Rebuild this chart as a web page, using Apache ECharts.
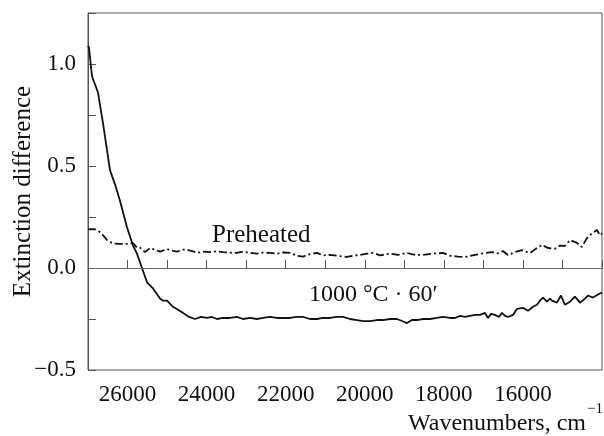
<!DOCTYPE html>
<html>
<head>
<meta charset="utf-8">
<script src="https://cdn.jsdelivr.net/npm/echarts@6/dist/echarts.min.js"></script>
<style>
  html, body { margin: 0; padding: 0; background: #fff; }
  #chart { width: 604px; height: 436px; }
</style>
</head>
<body>
<div id="chart"></div>
<script>
// 1000 °C · 60′ curve (solid)
const heatedWave = [
  27000, 26975, 26899, 26747, 26621, 26444, 26317, 26191, 26014, 25862,
  25761, 25634, 25508, 25356, 25306, 25179, 25103, 25002, 24850, 24724,
  24597, 24446, 24294, 24142, 23990, 23864, 23738, 23586, 23409, 23232,
  23080, 22903, 22726, 22574, 22397, 22220, 22068, 21891, 21714, 21563,
  21386, 21209, 21057, 20880, 20703, 20551, 20374, 20197, 20045, 19868,
  19691, 19539, 19362, 19185, 19059, 18933, 18807, 18680, 18528, 18351,
  18174, 18022, 17845, 17718, 17592, 17465, 17339, 17213, 17086, 16960,
  16884, 16808, 16707, 16606, 16530, 16454, 16378, 16251, 16150, 15999,
  15872, 15746, 15645, 15569, 15493, 15392, 15316, 15265, 15139, 15038,
  14937, 14810, 14684, 14557, 14431, 14355, 14228, 14102, 14000
]
const heatedValue = [
  1.09, 1.08, 0.94, 0.86, 0.71, 0.48, 0.41, 0.33, 0.20, 0.11,
  0.07, 0.0, -0.07, -0.10, -0.105, -0.15, -0.16, -0.16, -0.19, -0.205,
  -0.22, -0.24, -0.25, -0.24, -0.245, -0.24, -0.25, -0.245, -0.245, -0.24,
  -0.25, -0.245, -0.25, -0.245, -0.24, -0.245, -0.245, -0.245, -0.24, -0.24,
  -0.25, -0.25, -0.245, -0.245, -0.24, -0.24, -0.25, -0.255, -0.26, -0.26,
  -0.255, -0.255, -0.25, -0.25, -0.26, -0.27, -0.255, -0.255, -0.25, -0.25,
  -0.245, -0.24, -0.245, -0.245, -0.235, -0.24, -0.235, -0.23, -0.23, -0.22,
  -0.245, -0.225, -0.23, -0.24, -0.22, -0.235, -0.24, -0.23, -0.20, -0.195,
  -0.21, -0.19, -0.18, -0.16, -0.145, -0.165, -0.15, -0.16, -0.17, -0.135,
  -0.18, -0.165, -0.14, -0.17, -0.15, -0.135, -0.145, -0.13, -0.12
]

// Preheated curve (dash-dot)
const preWave = [
  27000, 26823, 26697, 26595, 26520, 26368, 26191, 26014, 25862, 25761,
  25685, 25559, 25432, 25306, 25179, 25002, 24876, 24749, 24597, 24471,
  24344, 24243, 24092, 23915, 23738, 23586, 23409, 23232, 23080, 22903,
  22726, 22574, 22397, 22220, 22068, 21891, 21714, 21563, 21386, 21209,
  21057, 20880, 20703, 20450, 20298, 20121, 19944, 19792, 19615, 19362,
  19160, 18933, 18730, 18528, 18275, 18022, 17845, 17643, 17465, 17213,
  16960, 16783, 16631, 16505, 16378, 16201, 16024, 15822, 15670, 15518,
  15367, 15190, 15063, 14937, 14810, 14633, 14507, 14380, 14254, 14127,
  14051, 14000
]
const preValue = [
  0.19, 0.19, 0.176, 0.155, 0.137, 0.12, 0.118, 0.118, 0.122, 0.10,
  0.10, 0.078, 0.098, 0.09, 0.08, 0.093, 0.085, 0.08, 0.09, 0.088,
  0.082, 0.074, 0.08, 0.078, 0.082, 0.078, 0.075, 0.074, 0.08, 0.074,
  0.07, 0.075, 0.074, 0.07, 0.076, 0.074, 0.06, 0.056, 0.068, 0.074,
  0.062, 0.064, 0.06, 0.054, 0.06, 0.064, 0.07, 0.074, 0.062, 0.07,
  0.064, 0.074, 0.064, 0.064, 0.07, 0.074, 0.06, 0.056, 0.054, 0.064,
  0.074, 0.078, 0.072, 0.083, 0.064, 0.078, 0.088, 0.073, 0.095, 0.113,
  0.098, 0.094, 0.11, 0.108, 0.137, 0.123, 0.103, 0.147, 0.17, 0.186,
  0.16, 0.17
]

const xTickLabels = [26000, 24000, 22000, 20000, 18000, 16000]
const yTickLabels = [-0.5, 0.0, 0.5, 1.0]

const pairs = (xs, ys) => xs.map((x, i) => [x, ys[i]])

const FONT = '"Liberation Serif", "Times New Roman", serif'
const AXIS_COLOR = '#555'

const chart = echarts.init(document.getElementById('chart'))

chart.setOption({
  animation: false,
  backgroundColor: '#fff',
  grid: {
    left: 88,
    right: 2,
    top: 13,
    bottom: 66,
    containLabel: false,
    outerBoundsMode: 'none',
    show: true,
    borderColor: AXIS_COLOR,
    borderWidth: 1,
  },
  xAxis: {
    type: 'value',
    inverse: true,
    min: 14000,
    max: 27000,
    interval: 1000,
    axisLine: { show: true, lineStyle: { color: AXIS_COLOR, width: 1 } },
    axisTick: { show: true, inside: true, length: 8, lineStyle: { color: AXIS_COLOR } },
    splitLine: { show: false },
    axisLabel: {
      margin: 13,
      color: '#111',
      fontFamily: FONT,
      fontSize: 23,
      showMinLabel: true,
      showMaxLabel: true,
      formatter: (v) => (xTickLabels.includes(v) ? String(v) : ''),
    },
  },
  yAxis: {
    type: 'value',
    min: -0.5,
    max: 1.25,
    interval: 0.25,
    name: 'Extinction difference',
    nameLocation: 'middle',
    nameRotate: 90,
    nameGap: 52,
    nameMoveOverlap: false,
    nameTextStyle: { color: '#111', fontFamily: FONT, fontSize: 25 },
    axisLine: { show: true, lineStyle: { color: AXIS_COLOR, width: 1 } },
    axisTick: { show: true, inside: true, length: 8, lineStyle: { color: AXIS_COLOR } },
    splitLine: { show: false },
    axisLabel: {
      margin: 12,
      color: '#111',
      fontFamily: FONT,
      fontSize: 23,
      formatter: (v) => {
        const hit = yTickLabels.find((t) => Math.abs(t - v) < 1e-9)
        if (hit === undefined) return ''
        return hit.toFixed(1).replace('-', '−')
      },
    },
  },
  graphic: [
    {
      type: 'text',
      style: { text: 'Preheated', x: 212, y: 235, textVerticalAlign: 'middle', font: '25px ' + FONT, fill: '#111' },
    },
    {
      type: 'text',
      style: { text: '1000 °C · 60′', x: 309, y: 295, textVerticalAlign: 'middle', font: '24px ' + FONT, fill: '#111' },
    },
    {
      type: 'text',
      style: { text: 'Wavenumbers, cm', x: 586, y: 424, textAlign: 'right', textVerticalAlign: 'middle', font: '24px ' + FONT, fill: '#111' },
    },
    {
      type: 'text',
      style: { text: '−1', x: 587, y: 409, textAlign: 'left', textVerticalAlign: 'middle', font: '15px ' + FONT, fill: '#111' },
    },
  ],
  series: [
    {
      name: '1000 °C · 60′',
      type: 'line',
      data: pairs(heatedWave, heatedValue),
      showSymbol: false,
      symbol: 'none',
      lineStyle: { color: '#111', width: 1.8 },
    },
    {
      name: 'Preheated',
      type: 'line',
      data: pairs(preWave, preValue),
      showSymbol: false,
      symbol: 'none',
      lineStyle: { color: '#111', width: 1.8, type: [8, 3, 2, 3] },
      markLine: {
        silent: true,
        symbol: ['none', 'none'],
        label: { show: false },
        lineStyle: { color: '#666', width: 1, type: 'solid' },
        data: [{ yAxis: 0 }],
      },
    },
  ],
})
</script>
</body>
</html>
